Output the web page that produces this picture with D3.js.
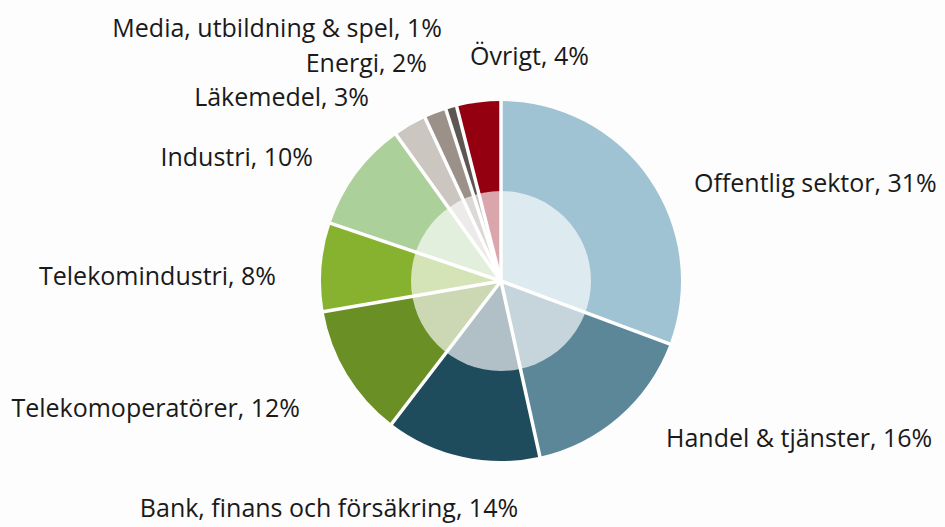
<!DOCTYPE html>
<html>
<head>
<meta charset="utf-8">
<script src="https://cdn.jsdelivr.net/npm/d3@7"></script>
<style>
html,body{margin:0;padding:0;background:#fdfdfd;}
svg{display:block;}
text{font-family:"Open Sans",sans-serif;fill:#1a1a1a;}
</style>
</head>
<body>
<svg id="chart" width="945" height="527"></svg>
<script>
const categories = ["Offentlig sektor","Handel & tjänster","Bank, finans och försäkring","Telekomoperatörer","Telekomindustri","Industri","Läkemedel","Energi","Media, utbildning & spel","Övrigt"];
const values = [31,16,14,12,8,10,3,2,1,4];
const colors = ["#9fc3d3","#5c8799","#1f4c5c","#6a8f25","#86b22f","#acd09a","#cbc6c0","#9b9189","#5e5650","#950010"];
// label layout: [x, baseline y, anchor]
const labelLayout = [
  [694,192,"start"],
  [666,447,"start"],
  [329,517,"middle"],
  [300,417,"end"],
  [276,285,"end"],
  [313,166,"end"],
  [369,106,"end"],
  [427,72,"end"],
  [442,37,"end"],
  [470,65,"start"]
];

const svg = d3.select("#chart");
const cx = 501, cy = 281, R = 180, rInner = 90;
const g = svg.append("g").attr("transform",`translate(${cx},${cy})`);
const data = categories.map((c,i)=>({name:c,value:values[i],color:colors[i],i}));
const pie = d3.pie().sort(null).value(d=>d.value);
const arcs = pie(data);
const arc = d3.arc().innerRadius(0).outerRadius(R);

g.selectAll("path.slice").data(arcs).enter().append("path")
  .attr("class","slice")
  .attr("d",arc)
  .attr("fill",d=>d.data.color);

g.append("circle").attr("r",rInner).attr("fill","#ffffff").attr("fill-opacity",0.65);

// separators
g.selectAll("line.sep").data(arcs).enter().append("line")
  .attr("class","sep")
  .attr("x1",0).attr("y1",0)
  .attr("x2",d=>Math.sin(d.startAngle)*(R+2))
  .attr("y2",d=>-Math.cos(d.startAngle)*(R+2))
  .attr("stroke","#fff").attr("stroke-width",3.5);

svg.selectAll("text.lbl").data(data).enter().append("text")
  .attr("class","lbl")
  .attr("x",d=>labelLayout[d.i][0])
  .attr("y",d=>labelLayout[d.i][1])
  .attr("text-anchor",d=>labelLayout[d.i][2])
  .style("font-size","25px")
  .text(d=>`${d.name}, ${d.value}%`);
</script>
</body>
</html>
